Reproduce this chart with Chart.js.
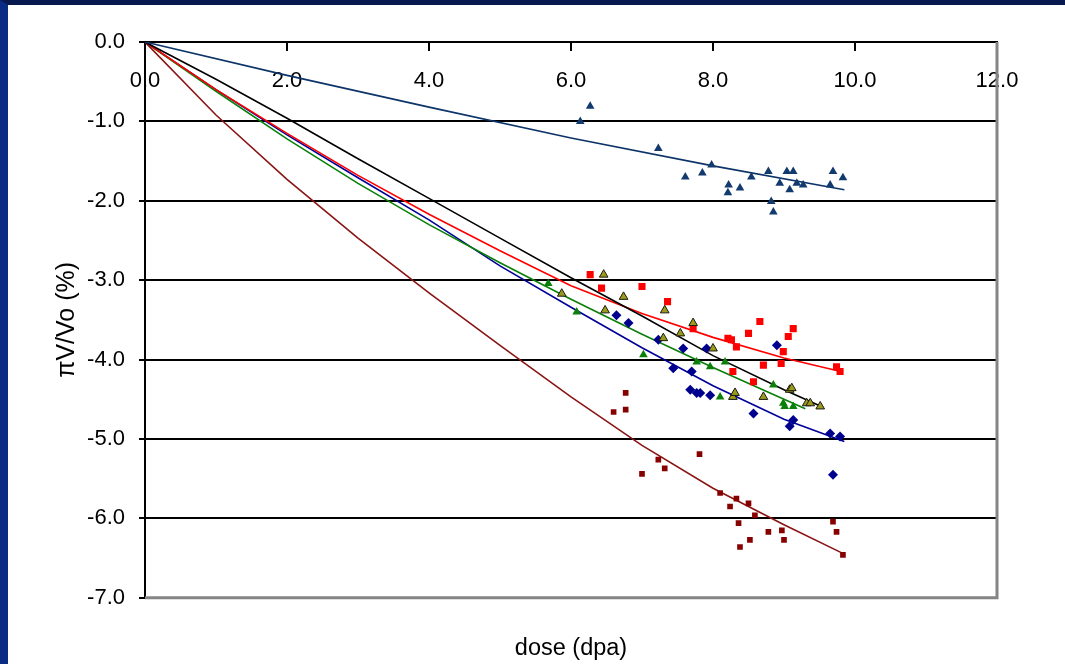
<!DOCTYPE html>
<html>
<head>
<meta charset="utf-8">
<title>Swelling vs dose</title>
<script src="https://cdn.jsdelivr.net/npm/chart.js@4.4.1/dist/chart.umd.min.js"></script>
<style>
  html, body { margin: 0; padding: 0; background: #fff; overflow: hidden; }
  #frame {
    position: absolute; left: 0; top: 0; width: 1065px; height: 664px;
    box-sizing: border-box; background: #fff;
    border-top: 5px solid #07194f; border-left: 8px solid #0b2c84;
  }
  canvas { display: block; }
</style>
</head>
<body>
<div id="frame"><canvas id="chart" width="1057" height="659"></canvas></div>
<script>
// axis ticks
const xTicks = [0, 2, 4, 6, 8, 10, 12];
const yTicks = [0, -1, -2, -3, -4, -5, -6, -7];

// measured points [dose, dV/V0] per series
const navyPts = [[6.13,-1.00],[6.27,-0.81],[7.23,-1.34],[7.61,-1.70],[7.85,-1.65],[7.98,-1.55],[8.22,-1.80],[8.21,-1.90],[8.38,-1.84],[8.54,-1.70],[8.78,-1.63],[8.82,-2.01],[8.85,-2.14],[8.94,-1.78],[9.04,-1.63],[9.08,-1.86],[9.13,-1.63],[9.18,-1.78],[9.27,-1.80],[9.65,-1.80],[9.69,-1.63],[9.83,-1.71]];
const olivePts = [[5.87,-3.17],[6.46,-2.93],[6.48,-3.38],[6.74,-3.21],[7.30,-3.73],[7.32,-3.38],[7.54,-3.67],[7.72,-3.54],[8.00,-3.86],[8.28,-4.47],[8.31,-4.42],[8.71,-4.47],[9.08,-4.38],[9.11,-4.36],[9.32,-4.55],[9.37,-4.55],[9.51,-4.59]];
const redPts = [[6.27,-2.93],[6.43,-3.10],[7.00,-3.08],[7.36,-3.27],[7.72,-3.61],[8.21,-3.73],[8.26,-3.75],[8.28,-4.15],[8.33,-3.84],[8.50,-3.67],[8.57,-4.28],[8.66,-3.52],[8.71,-4.07],[8.96,-4.05],[8.99,-3.90],[9.06,-3.71],[9.13,-3.61],[9.74,-4.09],[9.79,-4.15]];
const greenPts = [[5.68,-3.04],[6.08,-3.40],[7.02,-3.94],[7.77,-4.03],[7.96,-4.09],[8.10,-4.47],[8.17,-4.03],[8.85,-4.32],[8.99,-4.55],[9.01,-4.59],[9.13,-4.59]];
const bluePts = [[6.64,-3.44],[6.81,-3.54],[7.23,-3.75],[7.44,-4.11],[7.58,-3.86],[7.68,-4.38],[7.70,-4.15],[7.77,-4.42],[7.82,-4.42],[7.91,-3.86],[7.96,-4.45],[8.57,-4.68],[8.90,-3.82],[9.08,-4.84],[9.13,-4.76],[9.65,-4.93],[9.69,-5.45],[9.79,-4.97]];
const darkRedPts = [[6.60,-4.66],[6.77,-4.42],[6.77,-4.63],[7.00,-5.44],[7.23,-5.26],[7.32,-5.37],[7.81,-5.19],[8.10,-5.68],[8.24,-5.85],[8.33,-5.75],[8.36,-6.06],[8.38,-6.36],[8.50,-5.81],[8.52,-6.27],[8.59,-5.96],[8.78,-6.17],[8.97,-6.15],[9.00,-6.27],[9.69,-6.04],[9.74,-6.17],[9.83,-6.46]];

// trend lines
const navyFit = [[0,0],[2,-0.42],[4,-0.82],[6,-1.21],[8,-1.56],[9.85,-1.86]];
const blackFit = [[0,0],[1,-0.47],[2,-0.96],[3,-1.47],[4,-1.97],[5,-2.47],[6,-2.97],[7,-3.45],[8,-3.95],[9,-4.38],[9.55,-4.60]];
const redFit = [[0,0],[1,-0.60],[2,-1.15],[3,-1.68],[4,-2.17],[5,-2.63],[6,-3.07],[7,-3.42],[8,-3.72],[9,-3.98],[9.8,-4.15]];
const greenFit = [[0,0],[1,-0.62],[2,-1.22],[3,-1.78],[4,-2.30],[5,-2.78],[6,-3.24],[7,-3.68],[8,-4.10],[9,-4.50],[9.3,-4.62]];
const blueFit = [[0,0],[1,-0.60],[2,-1.17],[3,-1.71],[4,-2.24],[5,-2.82],[6,-3.34],[7,-3.85],[8,-4.33],[9,-4.75],[9.85,-5.03]];
const darkRedFit = [[0,0],[1,-0.92],[2,-1.73],[3,-2.47],[4,-3.16],[5,-3.82],[6,-4.47],[7,-5.08],[8,-5.62],[9,-6.08],[9.85,-6.45]];

const xy = arr => arr.map(p => ({ x: p[0], y: p[1] }));
const FONT = '"Liberation Sans", Arial, sans-serif';

const pts = (data, color, style, r, border) => ({
  data: xy(data), showLine: false, pointStyle: style, pointRadius: r,
  backgroundColor: color, borderColor: border || color, pointBorderWidth: border ? 1 : 0
});
const fit = (data, color) => ({
  data: xy(data), showLine: true, pointRadius: 0, borderColor: color, borderWidth: 1.6, fill: false
});

// gray plot border on right/bottom
const plotFrame = {
  id: 'plotFrame',
  beforeDatasetsDraw(chart) {
    const { ctx, chartArea: a } = chart;
    ctx.save();
    ctx.strokeStyle = '#858585';
    ctx.lineWidth = 3;
    ctx.beginPath();
    ctx.moveTo(a.left, a.bottom);
    ctx.lineTo(a.right, a.bottom);
    ctx.lineTo(a.right, a.top);
    ctx.stroke();
    ctx.restore();
  }
};

new Chart(document.getElementById('chart'), {
  type: 'scatter',
  data: {
    datasets: [
      pts(navyPts, '#123a6e', 'triangle', 5),
      pts(olivePts, '#9c9a1c', 'triangle', 5, '#1a1a10'),
      pts(redPts, '#ff0000', 'rect', 5),
      pts(greenPts, '#0a800a', 'triangle', 5),
      pts(bluePts, '#00008f', 'rectRot', 5),
      pts(darkRedPts, '#870000', 'rect', 4),
      fit(navyFit, '#0d3468'),
      fit(blackFit, '#000000'),
      fit(redFit, '#ff0000'),
      fit(greenFit, '#0a800a'),
      fit(blueFit, '#000099'),
      fit(darkRedFit, '#8a1515')
    ]
  },
  options: {
    responsive: false,
    animation: false,
    devicePixelRatio: 1,
    layout: { padding: { top: 37, right: 68, left: 0, bottom: 0 } },
    plugins: {
      legend: { display: false },
      tooltip: { enabled: false },
      title: {
        display: true, position: 'bottom', fullSize: false, text: 'dose (dpa)', color: '#000',
        font: { family: FONT, size: 23.5, weight: 'normal' },
        padding: { top: 37, bottom: 1 }
      }
    },
    scales: {
      x: {
        type: 'linear', min: 0, max: 12,
        position: { y: 0 },
        afterBuildTicks: s => { s.ticks = xTicks.map(v => ({ value: v })); },
        ticks: { color: '#000', padding: 18, font: { family: FONT, size: 22 }, callback: v => Number(v).toFixed(1) },
        grid: { drawOnChartArea: false, drawTicks: true, tickLength: 8, color: '#000', lineWidth: 2 },
        border: { display: true, color: '#000', width: 2 }
      },
      y: {
        type: 'linear', min: -7, max: 0,
        afterBuildTicks: s => { s.ticks = yTicks.map(v => ({ value: v })); },
        afterFit: s => { s.width = 137; },
        ticks: { color: '#000', padding: 14, font: { family: FONT, size: 22 }, callback: v => Number(v).toFixed(1) },
        grid: {
          color: c => (c.tick && c.tick.value === -7 ? '#858585' : '#000'),
          tickColor: '#000', lineWidth: 2, drawTicks: true, tickLength: 6
        },
        border: { display: true, color: '#000', width: 2 },
        title: {
          display: true, text: 'πV/Vo (%)', color: '#000',
          font: { family: FONT, size: 25 }, padding: { top: 44, bottom: 0 }
        }
      }
    }
  },
  plugins: [plotFrame]
});
</script>
</body>
</html>
